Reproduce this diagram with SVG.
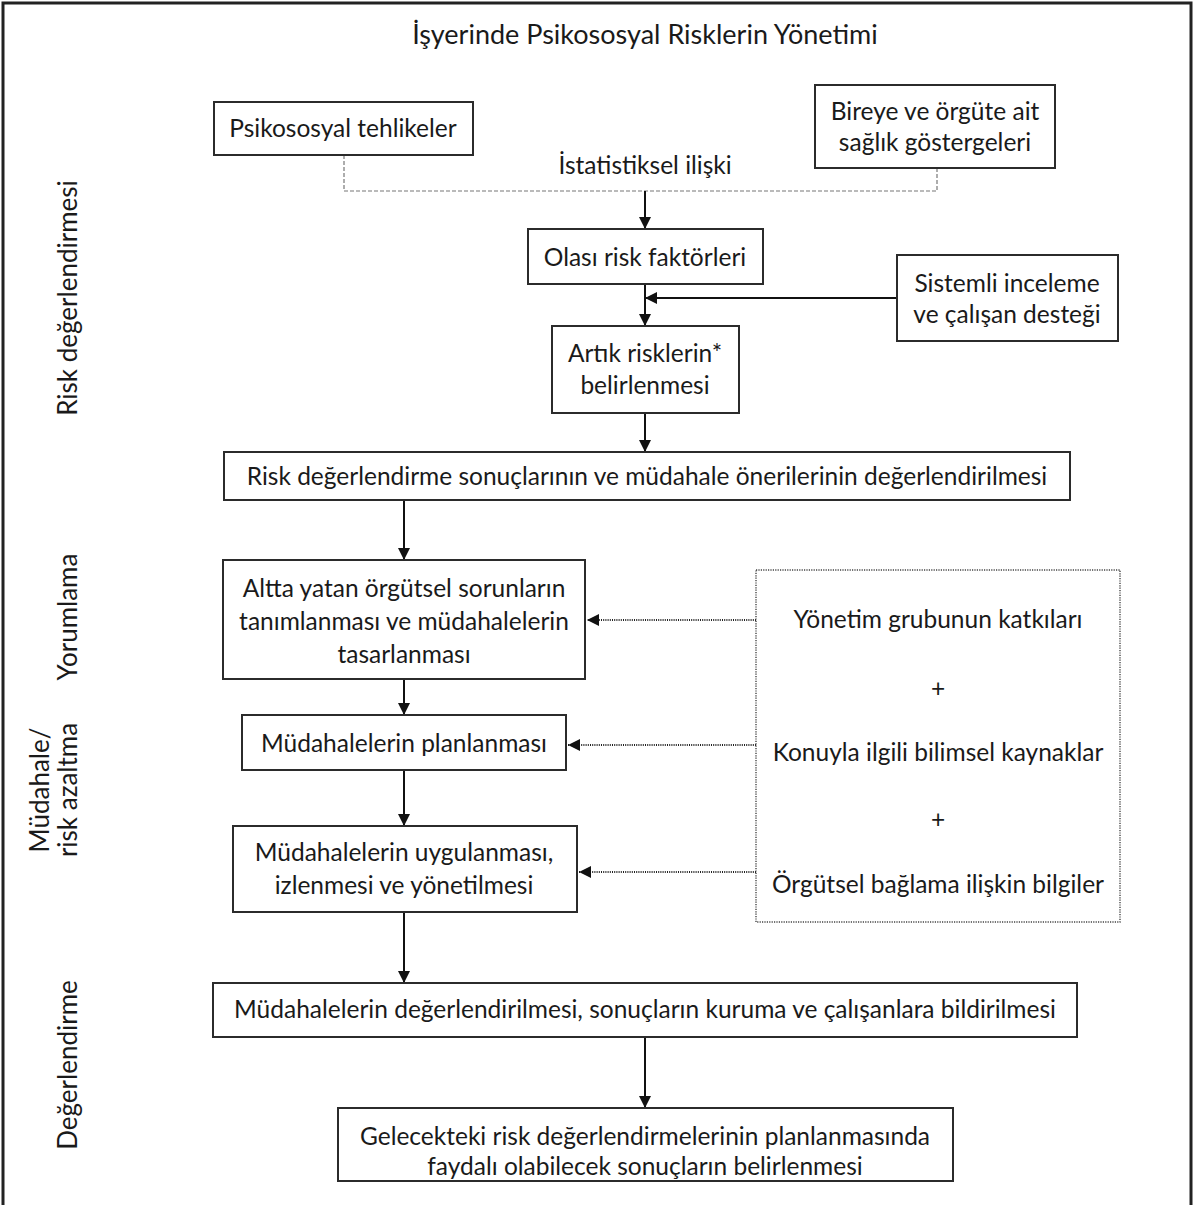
<svg xmlns="http://www.w3.org/2000/svg" width="1195" height="1205" viewBox="0 0 1195 1205">
  <style>
    .box { fill: #fff; stroke: #2b2b2b; stroke-width: 2; }
    .txt { font-family: Lato, "Open Sans", "Liberation Sans", sans-serif; font-size: 24.5px; fill: #1a1a1a; text-anchor: middle; }
    .side { font-family: Lato, "Open Sans", "Liberation Sans", sans-serif; font-size: 26px; fill: #1a1a1a; text-anchor: middle; }
    .arrow { stroke: #111; stroke-width: 2; fill: none; marker-end: url(#head); }
    .dotarrow { stroke: #222; stroke-width: 2; stroke-dasharray: 1 1.2; fill: none; marker-end: url(#head); }
    .dashed { stroke: #777; stroke-width: 1.2; stroke-dasharray: 4 2; fill: none; }
  </style>
  <defs>
    <marker id="head" viewBox="0 0 10 10" refX="10" refY="5" markerWidth="6" markerHeight="6" orient="auto" markerUnits="strokeWidth">
      <path d="M0,0 L10,5 L0,10 Z" fill="#111"/>
    </marker>
  </defs>

  <!-- frame -->
  <rect x="3" y="3" width="1188" height="1215" fill="#fff" stroke="#222" stroke-width="3"/>

  <text x="645" y="44" class="txt" style="font-size:27px">İşyerinde Psikososyal Risklerin Yönetimi</text>

  <!-- phase labels -->
  <g id="phase-risk">
    <text class="side" transform="translate(77,298) rotate(-90)">Risk değerlendirmesi</text>
  </g>
  <g id="phase-yorum">
    <text class="side" transform="translate(77,617) rotate(-90)">Yorumlama</text>
  </g>
  <g id="phase-mudahale">
    <text class="side" transform="translate(49,790) rotate(-90)">Müdahale/</text>
    <text class="side" transform="translate(77,790) rotate(-90)">risk azaltma</text>
  </g>
  <g id="phase-deger">
    <text class="side" transform="translate(77,1065) rotate(-90)">Değerlendirme</text>
  </g>

  <!-- connectors -->
  <g id="connectors">
    <path class="dashed" d="M344,155 V191 H937 V168"/>
    <path class="arrow" d="M645,191 V229"/>
    <path class="arrow" d="M645,284 V326"/>
    <path class="arrow" d="M897,298 H645"/>
    <path class="arrow" d="M645,413 V452"/>
    <path class="arrow" d="M404,500 V560"/>
    <path class="arrow" d="M404,679 V715"/>
    <path class="arrow" d="M404,770 V826"/>
    <path class="arrow" d="M404,912 V983"/>
    <path class="arrow" d="M645,1037 V1108"/>
    <path class="dotarrow" d="M756,620 H587"/>
    <path class="dotarrow" d="M756,745 H568"/>
    <path class="dotarrow" d="M756,872 H579"/>
  </g>

  <text x="645" y="174" class="txt">İstatistiksel ilişki</text>

  <g id="n-tehlikeler">
    <rect class="box" x="214" y="102" width="259" height="53"/>
    <text x="343" y="137" class="txt">Psikososyal tehlikeler</text>
  </g>
  <g id="n-gostergeler">
    <rect class="box" x="815" y="85" width="240" height="83"/>
    <text x="935" y="120" class="txt">Bireye ve örgüte ait</text>
    <text x="935" y="151" class="txt">sağlık göstergeleri</text>
  </g>
  <g id="n-olasi">
    <rect class="box" x="528" y="229" width="235" height="55"/>
    <text x="645" y="266" class="txt">Olası risk faktörleri</text>
  </g>
  <g id="n-sistemli">
    <rect class="box" x="897" y="255" width="221" height="86"/>
    <text x="1007" y="292" class="txt">Sistemli inceleme</text>
    <text x="1007" y="323" class="txt">ve çalışan desteği</text>
  </g>
  <g id="n-artik">
    <rect class="box" x="552" y="326" width="187" height="87"/>
    <text x="645" y="362" class="txt">Artık risklerin*</text>
    <text x="645" y="394" class="txt">belirlenmesi</text>
  </g>
  <g id="n-sonuclar">
    <rect class="box" x="224" y="452" width="846" height="48"/>
    <text x="647" y="485" class="txt">Risk değerlendirme sonuçlarının ve müdahale önerilerinin değerlendirilmesi</text>
  </g>
  <g id="n-altta">
    <rect class="box" x="223" y="560" width="362" height="119"/>
    <text x="404" y="597" class="txt">Altta yatan örgütsel sorunların</text>
    <text x="404" y="630" class="txt">tanımlanması ve müdahalelerin</text>
    <text x="404" y="663" class="txt">tasarlanması</text>
  </g>
  <g id="n-kaynaklar">
    <rect x="756" y="570" width="364" height="352" fill="#fff" stroke="#444" stroke-width="1.4" stroke-dasharray="1.2 1.2"/>
    <text x="938" y="628" class="txt">Yönetim grubunun katkıları</text>
    <text x="938" y="697" class="txt">+</text>
    <text x="938" y="761" class="txt">Konuyla ilgili bilimsel kaynaklar</text>
    <text x="938" y="828" class="txt">+</text>
    <text x="938" y="893" class="txt">Örgütsel bağlama ilişkin bilgiler</text>
  </g>
  <g id="n-planlama">
    <rect class="box" x="242" y="715" width="324" height="55"/>
    <text x="404" y="752" class="txt">Müdahalelerin planlanması</text>
  </g>
  <g id="n-uygulama">
    <rect class="box" x="233" y="826" width="344" height="86"/>
    <text x="404" y="861" class="txt">Müdahalelerin uygulanması,</text>
    <text x="404" y="894" class="txt">izlenmesi ve yönetilmesi</text>
  </g>
  <g id="n-bildirim">
    <rect class="box" x="213" y="983" width="864" height="54"/>
    <text x="645" y="1018" class="txt">Müdahalelerin değerlendirilmesi, sonuçların kuruma ve çalışanlara bildirilmesi</text>
  </g>
  <g id="n-gelecek">
    <rect class="box" x="338" y="1108" width="615" height="73"/>
    <text x="645" y="1145" class="txt">Gelecekteki risk değerlendirmelerinin planlanmasında</text>
    <text x="645" y="1175" class="txt">faydalı olabilecek sonuçların belirlenmesi</text>
  </g>
</svg>
